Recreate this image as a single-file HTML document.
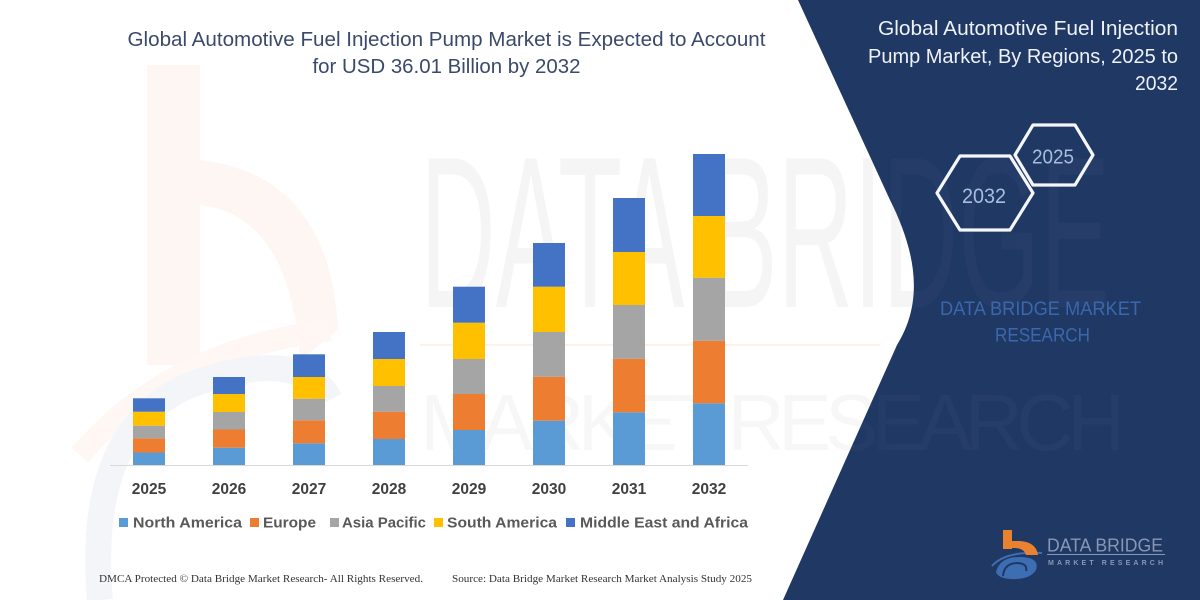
<!DOCTYPE html>
<html>
<head>
<meta charset="utf-8">
<style>
  html,body{margin:0;padding:0;background:#fff;}
  svg{display:block;}
</style>
</head>
<body>
<svg width="1200" height="600" viewBox="0 0 1200 600" xmlns="http://www.w3.org/2000/svg">
  <defs>
    <clipPath id="navyClip">
      <path d="M798 0 L890 200 C915 250 925 300 897 345 L783 600 L1200 600 L1200 0 Z"/>
    </clipPath>
  </defs>
  <rect x="0" y="0" width="1200" height="600" fill="#ffffff"/>

  <!-- faint watermark b -->
  <g>
    <rect x="147" y="65" width="53" height="300" fill="#fef6f2"/>
    <path d="M200 160 Q330 175 338 330 L300 360 Q290 215 200 205 Z" fill="#fef6f2"/>
    <path d="M80 455 Q170 350 330 330" fill="none" stroke="#fef7f3" stroke-width="22"/>
    <path d="M100 600 Q85 430 190 385 Q300 345 330 400" fill="none" stroke="#f3f5f9" stroke-width="26"/>
  </g>

  <!-- watermark big text (white side) -->
  <text x="420" y="307" font-family="Liberation Sans, sans-serif" font-size="216" fill="#000" opacity="0.035" textLength="690" lengthAdjust="spacingAndGlyphs">DATA BRIDGE</text>
  <text x="420" y="450" font-family="Liberation Sans, sans-serif" font-size="80" fill="#000" opacity="0.028" textLength="705" lengthAdjust="spacing">MARKET RESEARCH</text>
  <line x1="420" y1="345" x2="880" y2="345" stroke="#fdf1ea" stroke-width="2"/>

  <!-- Title -->
  <text x="446.5" y="46" text-anchor="middle" font-family="Liberation Sans, sans-serif" font-size="20" fill="#3b4a6b" textLength="638" lengthAdjust="spacingAndGlyphs">Global Automotive Fuel Injection Pump Market is Expected to Account</text>
  <text x="446.5" y="73" text-anchor="middle" font-family="Liberation Sans, sans-serif" font-size="20" fill="#3b4a6b" textLength="268" lengthAdjust="spacingAndGlyphs">for USD 36.01 Billion by 2032</text>

  <!-- axis -->
  <line x1="110" y1="465.5" x2="748" y2="465.5" stroke="#d9d9d9" stroke-width="1"/>

  <!-- Bars -->
  <g>
    <rect x="133" y="452.5" width="32" height="12.5" fill="#5B9BD5"/>
    <rect x="133" y="438.3" width="32" height="14.2" fill="#ED7D31"/>
    <rect x="133" y="425.7" width="32" height="12.6" fill="#A5A5A5"/>
    <rect x="133" y="411.7" width="32" height="14" fill="#FFC000"/>
    <rect x="133" y="398.3" width="32" height="13.4" fill="#4472C4"/>

    <rect x="213" y="447.7" width="32" height="17.3" fill="#5B9BD5"/>
    <rect x="213" y="429.5" width="32" height="18.2" fill="#ED7D31"/>
    <rect x="213" y="412" width="32" height="17.5" fill="#A5A5A5"/>
    <rect x="213" y="394" width="32" height="18" fill="#FFC000"/>
    <rect x="213" y="377" width="32" height="17" fill="#4472C4"/>

    <rect x="293" y="443.3" width="32" height="21.7" fill="#5B9BD5"/>
    <rect x="293" y="420.3" width="32" height="23" fill="#ED7D31"/>
    <rect x="293" y="398.7" width="32" height="21.6" fill="#A5A5A5"/>
    <rect x="293" y="377" width="32" height="21.7" fill="#FFC000"/>
    <rect x="293" y="354.3" width="32" height="22.7" fill="#4472C4"/>

    <rect x="373" y="439" width="32" height="26" fill="#5B9BD5"/>
    <rect x="373" y="411.7" width="32" height="27.3" fill="#ED7D31"/>
    <rect x="373" y="386" width="32" height="25.7" fill="#A5A5A5"/>
    <rect x="373" y="359" width="32" height="27" fill="#FFC000"/>
    <rect x="373" y="332" width="32" height="27" fill="#4472C4"/>

    <rect x="453" y="430" width="32" height="35" fill="#5B9BD5"/>
    <rect x="453" y="394" width="32" height="36" fill="#ED7D31"/>
    <rect x="453" y="359" width="32" height="35" fill="#A5A5A5"/>
    <rect x="453" y="322.7" width="32" height="36.3" fill="#FFC000"/>
    <rect x="453" y="286.7" width="32" height="36" fill="#4472C4"/>

    <rect x="533" y="420.7" width="32" height="44.3" fill="#5B9BD5"/>
    <rect x="533" y="376.7" width="32" height="44" fill="#ED7D31"/>
    <rect x="533" y="332" width="32" height="44.7" fill="#A5A5A5"/>
    <rect x="533" y="286.7" width="32" height="45.3" fill="#FFC000"/>
    <rect x="533" y="243" width="32" height="43.7" fill="#4472C4"/>

    <rect x="613" y="412.3" width="32" height="52.7" fill="#5B9BD5"/>
    <rect x="613" y="358.7" width="32" height="53.6" fill="#ED7D31"/>
    <rect x="613" y="305" width="32" height="53.7" fill="#A5A5A5"/>
    <rect x="613" y="252" width="32" height="53" fill="#FFC000"/>
    <rect x="613" y="198" width="32" height="54" fill="#4472C4"/>

    <rect x="693" y="403.3" width="32" height="61.7" fill="#5B9BD5"/>
    <rect x="693" y="340.7" width="32" height="62.6" fill="#ED7D31"/>
    <rect x="693" y="277.7" width="32" height="63" fill="#A5A5A5"/>
    <rect x="693" y="216" width="32" height="61.7" fill="#FFC000"/>
    <rect x="693" y="154" width="32" height="62" fill="#4472C4"/>
  </g>

  <!-- Year labels -->
  <g font-family="Liberation Sans, sans-serif" font-size="15.5" font-weight="bold" fill="#404040" text-anchor="middle">
    <text x="149" y="494">2025</text>
    <text x="229" y="494">2026</text>
    <text x="309" y="494">2027</text>
    <text x="389" y="494">2028</text>
    <text x="469" y="494">2029</text>
    <text x="549" y="494">2030</text>
    <text x="629" y="494">2031</text>
    <text x="709" y="494">2032</text>
  </g>

  <!-- Legend -->
  <g font-family="Liberation Sans, sans-serif" font-size="14.5" font-weight="bold" fill="#595959">
    <rect x="119" y="518" width="9" height="9" fill="#5B9BD5"/>
    <text x="133" y="527.5" textLength="109" lengthAdjust="spacingAndGlyphs">North America</text>
    <rect x="250" y="518" width="9" height="9" fill="#ED7D31"/>
    <text x="263" y="527.5" textLength="53" lengthAdjust="spacingAndGlyphs">Europe</text>
    <rect x="330" y="518" width="9" height="9" fill="#A5A5A5"/>
    <text x="342" y="527.5" textLength="84" lengthAdjust="spacingAndGlyphs">Asia Pacific</text>
    <rect x="434" y="518" width="9" height="9" fill="#FFC000"/>
    <text x="447" y="527.5" textLength="110" lengthAdjust="spacingAndGlyphs">South America</text>
    <rect x="566" y="518" width="9" height="9" fill="#4472C4"/>
    <text x="580" y="527.5" textLength="168" lengthAdjust="spacingAndGlyphs">Middle East and Africa</text>
  </g>

  <!-- Footer -->
  <g font-family="Liberation Serif, serif" font-size="11" fill="#333333">
    <text x="99" y="582" textLength="324" lengthAdjust="spacingAndGlyphs">DMCA Protected © Data Bridge Market Research-  All Rights Reserved.</text>
    <text x="452" y="582" textLength="300" lengthAdjust="spacingAndGlyphs">Source: Data Bridge Market Research  Market Analysis Study 2025</text>
  </g>

  <!-- Navy panel -->
  <path d="M798 0 L890 200 C915 250 925 300 897 345 L783 600 L1200 600 L1200 0 Z" fill="#1f3864"/>

  <!-- watermark on navy side -->
  <g clip-path="url(#navyClip)">
    <text x="420" y="307" font-family="Liberation Sans, sans-serif" font-size="216" fill="#ffffff" opacity="0.022" textLength="690" lengthAdjust="spacingAndGlyphs">DATA BRIDGE</text>
    <text x="420" y="450" font-family="Liberation Sans, sans-serif" font-size="80" fill="#ffffff" opacity="0.022" textLength="705" lengthAdjust="spacing">MARKET RESEARCH</text>
  </g>

  <!-- Right title -->
  <g font-family="Liberation Sans, sans-serif" font-size="20" fill="#eef1f7" text-anchor="end">
    <text x="1178" y="35" textLength="300" lengthAdjust="spacingAndGlyphs">Global Automotive Fuel Injection</text>
    <text x="1178" y="63" textLength="310" lengthAdjust="spacingAndGlyphs">Pump Market, By Regions, 2025 to</text>
    <text x="1178" y="90" textLength="43" lengthAdjust="spacingAndGlyphs">2032</text>
  </g>

  <!-- Hexagons -->
  <polygon points="937,193 960,156 1010,156 1033,193 1010,230 960,230" fill="none" stroke="#f4f6fa" stroke-width="3.2" stroke-linejoin="round"/>
  <polygon points="1015,155 1033,125 1075,125 1093,155 1075,185 1033,185" fill="none" stroke="#f4f6fa" stroke-width="3.2" stroke-linejoin="round"/>
  <text x="962" y="203" font-family="Liberation Sans, sans-serif" font-size="21" fill="#a9bde0" textLength="44" lengthAdjust="spacingAndGlyphs">2032</text>
  <text x="1032" y="163.5" font-family="Liberation Sans, sans-serif" font-size="20" fill="#a9bde0" textLength="42" lengthAdjust="spacingAndGlyphs">2025</text>

  <!-- DATA BRIDGE MARKET RESEARCH -->
  <text x="940" y="315" font-family="Liberation Sans, sans-serif" font-size="19.5" fill="#3b67ad" textLength="201" lengthAdjust="spacingAndGlyphs">DATA BRIDGE MARKET</text>
  <text x="995" y="341.7" font-family="Liberation Sans, sans-serif" font-size="19.5" fill="#3b67ad" textLength="95" lengthAdjust="spacingAndGlyphs">RESEARCH</text>

  <!-- Logo -->
  <g>
    <path d="M992 566 Q1005 551 1042 553" fill="none" stroke="#3f6fb5" stroke-width="2"/>
    <path d="M996 572 Q1000 556 1022 557 Q1040 558 1036 570 Q1030 580 1010 579 Q998 578 996 572 Z" fill="#3d6db2"/>
    <path d="M1003 576 Q1004 563 1018 563 Q1028 564 1026 571" fill="none" stroke="#1f3864" stroke-width="2"/>
    <rect x="1003" y="530" width="9" height="19" fill="#e8822f"/>
    <path d="M1003 541 L1020 541 Q1036 542 1038 555 L1026 555 Q1024 548 1014 548 L1003 548 Z" fill="#e8822f"/>
    <text x="1047" y="551.7" font-family="Liberation Sans, sans-serif" font-size="18" fill="#8897b3" textLength="116" lengthAdjust="spacingAndGlyphs">DATA BRIDGE</text>
    <line x1="1047" y1="554.5" x2="1165" y2="554.5" stroke="#8897b3" stroke-width="1"/>
    <text x="1048" y="565" font-family="Liberation Sans, sans-serif" font-size="7" font-weight="bold" fill="#8897b3" textLength="115" lengthAdjust="spacing">MARKET RESEARCH</text>
  </g>
</svg>
</body>
</html>
